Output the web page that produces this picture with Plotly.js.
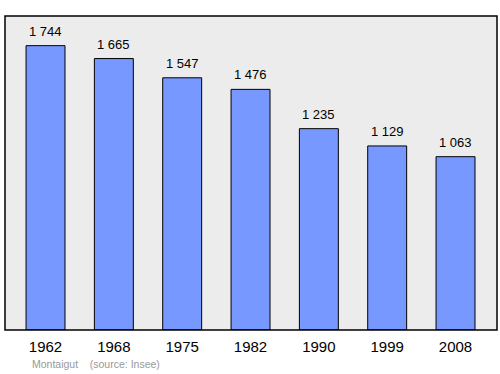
<!DOCTYPE html>
<html><head><meta charset="utf-8">
<script src="https://cdn.plot.ly/plotly-3.0.1.min.js"></script>
<style>html,body{margin:0;padding:0;background:#fff}#c{width:500px;height:374px}</style>
</head><body><div id="c"></div>
<script>
var years = ['1962','1968','1975','1982','1990','1999','2008'];
var population = [1744,1665,1547,1476,1235,1129,1063];
var labels = ['1 744','1 665','1 547','1 476','1 235','1 129','1 063'];
var footer = 'Montaigut    (source: Insee)';

var FONT = 'Liberation Sans';
var trace = {
  type:'bar', x:years, y:population,
  marker:{color:'#7799ff', line:{color:'#000', width:1}},
  width:0.57, hoverinfo:'none'
};
var ann = years.map(function(y,i){return {
  x:i, y:population[i], xref:'x', yref:'y', text:labels[i], showarrow:false,
  xanchor:'center', yanchor:'bottom', yshift:5, font:{family:FONT, size:13, color:'#000'}
};});
ann.push({x:0.05, y:-0.083, xref:'paper', yref:'paper', xanchor:'left', yanchor:'top',
  text:footer.replace(/ /g,'&nbsp;'), showarrow:false,
  font:{family:FONT, size:10.5, color:'#999'}});
var layout = {
  width:500, height:374,
  margin:{l:5, r:3, t:16, b:44},
  paper_bgcolor:'#fff', plot_bgcolor:'#ececec',
  showlegend:false,
  font:{family:FONT},
  xaxis:{type:'category', range:[-0.593,6.607], showgrid:false, zeroline:false, showline:false,
    ticks:'', ticklen:0, ticklabelstandoff:6, tickfont:{family:FONT, size:15, color:'#000'}},
  yaxis:{range:[0,1926], showgrid:false, zeroline:false, showticklabels:false, ticks:'', showline:false},
  shapes:[{type:'rect', xref:'paper', yref:'paper', x0:0, x1:1, y0:0, y1:1,
    line:{color:'#000', width:1.5}, fillcolor:'rgba(0,0,0,0)'}],
  annotations:ann
};
Plotly.newPlot('c',[trace],layout,{staticPlot:true});
</script></body></html>
